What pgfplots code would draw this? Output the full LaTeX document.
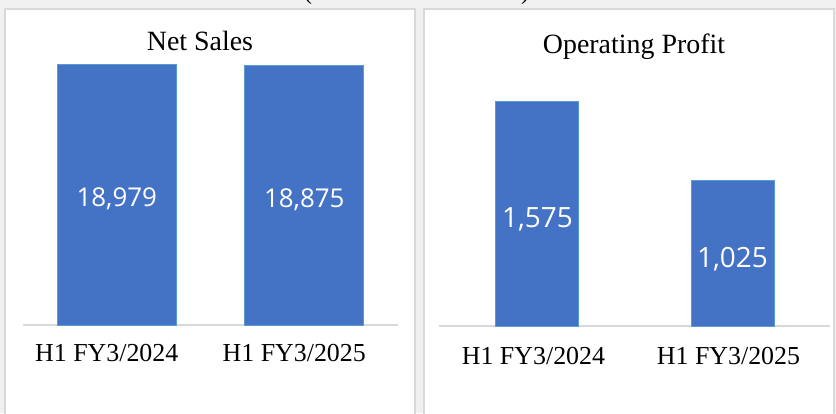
\documentclass[border=0pt]{standalone}
\usepackage{fontspec}
\setmainfont{Liberation Serif}
\newfontfamily\lblfont{Open Sans}
\usepackage{pgfplots}
\pgfplotsset{compat=1.18}
\definecolor{barblue}{HTML}{4472C4}
\definecolor{baredge}{HTML}{5B9BD5}
\definecolor{bggray}{HTML}{F0F0F0}
\definecolor{bordergray}{HTML}{D9D9D9}

\begin{document}
\begin{tikzpicture}[x=1bp,y=1bp]
\useasboundingbox (0,0) rectangle (836,413);
\fill[bggray] (0,0) rectangle (836,413);
\begin{scope}
\clip (0,0) rectangle (836,413);
\node[anchor=base, font=\fontsize{24}{26}\selectfont, inner sep=0] at (308,413.5) {(};
\node[anchor=base, font=\fontsize{24}{26}\selectfont, inner sep=0] at (525,413.5) {)};
\end{scope}
\draw[bordergray, line width=1.5bp, fill=white] (5,-3) rectangle (415,404);
\draw[bordergray, line width=1.5bp, fill=white] (424,-3) rectangle (834,404);
\node[anchor=base, font=\fontsize{28}{30}\selectfont, inner sep=0] at (200,363) {Net Sales};
\node[anchor=base, font=\fontsize{28}{30}\selectfont, inner sep=0] at (634,360) {Operating Profit};

\begin{axis}[
  at={(23bp,88bp)}, anchor=south west,
  scale only axis, width=375bp, height=275bp,
  xmin=-0.5, xmax=1.5, ymin=0, ymax=20000,
  axis y line=none, axis x line*=bottom,
  x axis line style={-, draw=bordergray, line width=1.5bp},
  xtick={0,1}, xticklabels={H1 FY3/2024, \raisebox{-4bp}{H1 FY3/2025}},
  major tick length=0pt, xtick style={draw=none},
  xticklabel style={font=\fontsize{26}{28}\selectfont, yshift=-16bp, xshift=-10bp},
  ybar, bar width=119bp, bar shift=0pt, clip=false,
  nodes near coords, point meta=explicit symbolic,
  every node near coord/.append style={font=\lblfont\fontsize{26}{28}\selectfont, text=white, anchor=center},
]
\addplot[fill=barblue, draw=baredge, line width=1bp,
  every node near coord/.append style={yshift=-135bp}]
  coordinates {(0,18979) [18,979]};
\addplot[fill=barblue, draw=baredge, line width=1bp,
  every node near coord/.append style={yshift=-134bp}]
  coordinates {(1,18875) [18,875]};
\end{axis}

\begin{axis}[
  at={(439bp,87bp)}, anchor=south west,
  scale only axis, width=391bp, height=256bp,
  xmin=-0.505, xmax=1.5, ymin=0, ymax=1800,
  axis y line=none, axis x line*=bottom,
  x axis line style={-, draw=bordergray, line width=1.5bp},
  xtick={0,1}, xticklabels={H1 FY3/2024, \raisebox{-3bp}{H1 FY3/2025}},
  major tick length=0pt, xtick style={draw=none},
  xticklabel style={font=\fontsize{26}{28}\selectfont, yshift=-18bp, xshift=-4bp},
  ybar, bar width=83bp, bar shift=0pt, clip=false,
  nodes near coords, point meta=explicit symbolic,
  every node near coord/.append style={font=\lblfont\fontsize{28}{30}\selectfont, text=white, anchor=center},
]
\addplot[fill=barblue, draw=baredge, line width=1bp,
  every node near coord/.append style={yshift=-117bp}]
  coordinates {(0,1575) [1,575]};
\addplot[fill=barblue, draw=baredge, line width=1bp,
  every node near coord/.append style={yshift=-79bp}]
  coordinates {(1,1025) [1,025]};
\end{axis}
\end{tikzpicture}
\end{document}
